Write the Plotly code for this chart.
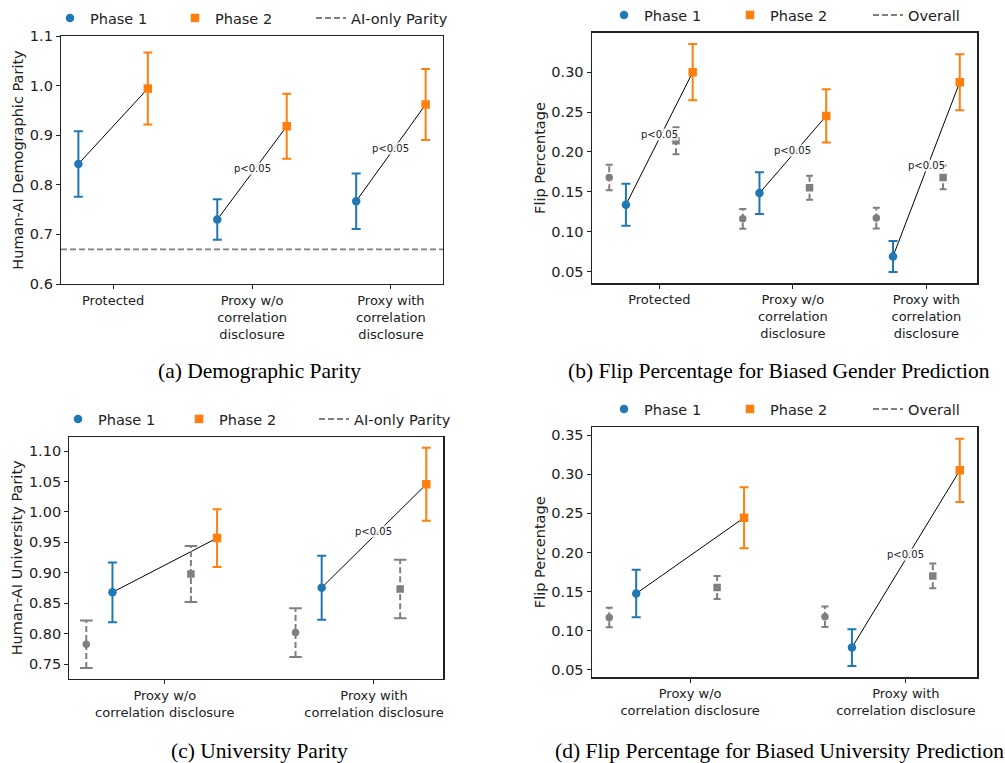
import plotly.graph_objects as go

# ---------------- data ----------------
cats_a = ["Protected", "Proxy w/o<br>correlation<br>disclosure", "Proxy with<br>correlation<br>disclosure"]
a_p1 = [0.842, 0.730, 0.767]
a_p1_err = [0.066, 0.041, 0.056]
a_p2 = [0.994, 0.918, 0.962]
a_p2_err = [0.0725, 0.0655, 0.0715]
a_ai_parity = 0.67
a_sig = [False, True, True]

cats_b = ["Protected", "Proxy w/o<br>correlation<br>disclosure", "Proxy with<br>correlation<br>disclosure"]
b_p1 = [0.1336, 0.1483, 0.0688]
b_p1_err = [0.0264, 0.0263, 0.0194]
b_p2 = [0.300, 0.2452, 0.2875]
b_p2_err = [0.0353, 0.0335, 0.0351]
b_ov1 = [0.168, 0.116, 0.117]
b_ov1_err = [0.016, 0.0125, 0.013]
b_ov2 = [0.214, 0.155, 0.168]
b_ov2_err = [0.017, 0.015, 0.015]
b_sig = [True, True, True]

cats_c = ["Proxy w/o<br>correlation disclosure", "Proxy with<br>correlation disclosure"]
c_p1 = [0.868, 0.8756]
c_p1_err = [0.049, 0.0525]
c_p2 = [0.957, 1.0454]
c_p2_err = [0.0475, 0.060]
c_ai1 = [0.7827, 0.8018]
c_ai1_err = [0.039, 0.040]
c_ai2 = [0.898, 0.8734]
c_ai2_err = [0.046, 0.048]
c_sig = [False, True]

cats_d = ["Proxy w/o<br>correlation disclosure", "Proxy with<br>correlation disclosure"]
d_p1 = [0.1474, 0.0782]
d_p1_err = [0.0303, 0.0235]
d_p2 = [0.2445, 0.3051]
d_p2_err = [0.039, 0.0406]
d_ov1 = [0.1167, 0.1176]
d_ov1_err = [0.0124, 0.0132]
d_ov2 = [0.1551, 0.170]
d_ov2_err = [0.0147, 0.0158]
d_sig = [False, True]

captions = ["(a) Demographic Parity",
            "(b) Flip Percentage for Biased Gender Prediction",
            "(c) University Parity",
            "(d) Flip Percentage for Biased University Prediction"]

# ---------------- style ----------------
BLUE = "#1f77b4"
ORANGE = "#ff7f0e"
GRAY = "#7f7f7f"
INK = "#222222"
FONT = "DejaVu Sans"
W, H = 1005, 763

OFF_P1, OFF_P2 = -0.25, 0.25
OFF_G1, OFF_G2 = -0.375, 0.125

fig = go.Figure()
annotations = []
shapes = []


def px_dom(x0, x1, ytop, ybot):
    return [x0 / W, x1 / W], [1 - ybot / H, 1 - ytop / H]


def add_phase(ax, legend, x, y, err, color, symbol, name):
    fig.add_trace(go.Scatter(
        x=x, y=y, mode="markers", name=name, legend=legend,
        xaxis="x" + ax, yaxis="y" + ax,
        marker=dict(color=color, size=8.5, symbol=symbol),
        error_y=dict(type="data", array=err, visible=True, color=color,
                     thickness=2, width=4.5),
    ))


def add_gray(ax, legend, x, y, err, symbol, name, showlegend, capw):
    ex, ey, cx, cy = [], [], [], []
    for xi, yi, ei in zip(x, y, err):
        ex += [xi, xi, None]
        ey += [yi - ei, yi + ei, None]
        cx += [xi, xi]
        cy += [yi - ei, yi + ei]
    fig.add_trace(go.Scatter(
        x=ex, y=ey, mode="lines", name=name, legend=legend,
        showlegend=showlegend, xaxis="x" + ax, yaxis="y" + ax,
        line=dict(color=GRAY, width=2, dash="6px,3px"),
    ))
    fig.add_trace(go.Scatter(
        x=cx, y=cy, mode="markers", showlegend=False,
        xaxis="x" + ax, yaxis="y" + ax, hoverinfo="skip",
        marker=dict(symbol="line-ew", size=capw,
                    line=dict(color=GRAY, width=2)),
    ))
    fig.add_trace(go.Scatter(
        x=x, y=y, mode="markers", showlegend=False,
        xaxis="x" + ax, yaxis="y" + ax,
        marker=dict(color=GRAY, size=7.5, symbol=symbol),
    ))


def add_panel(ax, legend, cats, p1, p1e, p2, p2e, sig):
    n = len(cats)
    x1 = [i + OFF_P1 for i in range(n)]
    x2 = [i + OFF_P2 for i in range(n)]
    lx, ly = [], []
    for i in range(n):
        lx += [x1[i], x2[i], None]
        ly += [p1[i], p2[i], None]
    fig.add_trace(go.Scatter(
        x=lx, y=ly, mode="lines", showlegend=False,
        xaxis="x" + ax, yaxis="y" + ax,
        line=dict(color="black", width=1),
    ))
    add_phase(ax, legend, x1, p1, p1e, BLUE, "circle", "Phase 1")
    add_phase(ax, legend, x2, p2, p2e, ORANGE, "square", "Phase 2")
    for i in range(n):
        if sig[i]:
            annotations.append(dict(
                x=(x1[i] + x2[i]) / 2, y=(p1[i] + p2[i]) / 2,
                xref="x" + ax, yref="y" + ax, text="p<0.05",
                showarrow=False, yshift=4,
                font=dict(family=FONT, size=10, color=INK),
                bgcolor="rgba(255,255,255,0.8)", borderpad=0,
            ))
    return x1, x2


def data_range(vals_lo, vals_hi):
    lo, hi = min(vals_lo), max(vals_hi)
    m = (hi - lo) * 0.05
    return [lo - m, hi + m]


def x_range(n, left):
    lo, hi = left, (n - 1) + OFF_P2
    m = (hi - lo) * 0.05
    return [lo - m, hi + m]


# panel a
add_panel("", "legend", cats_a, a_p1, a_p1_err, a_p2, a_p2_err, a_sig)
fig.add_trace(go.Scatter(x=[None], y=[None], mode="lines", name="AI-only Parity",
                         legend="legend5", line=dict(color=GRAY, width=2, dash="6px,3px")))
shapes.append(dict(type="line", xref="x domain", yref="y", x0=0, x1=1,
                   y0=a_ai_parity, y1=a_ai_parity,
                   line=dict(color=GRAY, width=1.8, dash="6px,3px")))

# panel b
add_panel("2", "legend2", cats_b, b_p1, b_p1_err, b_p2, b_p2_err, b_sig)
nb = len(cats_b)
add_gray("2", "legend6", [i + OFF_G1 for i in range(nb)], b_ov1, b_ov1_err, "circle", "Overall", True, 5)
add_gray("2", "legend6", [i + OFF_G2 for i in range(nb)], b_ov2, b_ov2_err, "square", "Overall", False, 5)

# panel c
add_panel("3", "legend3", cats_c, c_p1, c_p1_err, c_p2, c_p2_err, c_sig)
nc = len(cats_c)
add_gray("3", "legend7", [i + OFF_G1 for i in range(nc)], c_ai1, c_ai1_err, "circle", "AI-only Parity", True, 9)
add_gray("3", "legend7", [i + OFF_G2 for i in range(nc)], c_ai2, c_ai2_err, "square", "AI-only Parity", False, 9)

# panel d
add_panel("4", "legend4", cats_d, d_p1, d_p1_err, d_p2, d_p2_err, d_sig)
nd = len(cats_d)
add_gray("4", "legend8", [i + OFF_G1 for i in range(nd)], d_ov1, d_ov1_err, "circle", "Overall", True, 5)
add_gray("4", "legend8", [i + OFF_G2 for i in range(nd)], d_ov2, d_ov2_err, "square", "Overall", False, 5)

# ranges
def lo_hi(*pairs):
    lo, hi = [], []
    for v, e in pairs:
        lo += [a - b for a, b in zip(v, e)]
        hi += [a + b for a, b in zip(v, e)]
    return lo, hi

rb = data_range(*lo_hi((b_p1, b_p1_err), (b_p2, b_p2_err), (b_ov1, b_ov1_err), (b_ov2, b_ov2_err)))
rc = data_range(*lo_hi((c_p1, c_p1_err), (c_p2, c_p2_err), (c_ai1, c_ai1_err), (c_ai2, c_ai2_err)))
rd = data_range(*lo_hi((d_p1, d_p1_err), (d_p2, d_p2_err), (d_ov1, d_ov1_err), (d_ov2, d_ov2_err)))

axcommon = dict(showline=True, mirror=True, linecolor=INK, linewidth=1.2,
                ticks="outside", ticklen=4, tickcolor=INK, tickwidth=1,
                showgrid=False, zeroline=False, automargin=False)

def xax(dom, n, left, cats, anchor):
    return dict(axcommon, domain=dom, range=x_range(n, left), anchor=anchor,
                tickmode="array", tickvals=list(range(n)), ticktext=cats,
                tickfont=dict(family=FONT, size=13, color=INK))

def yax(dom, rng, title, dtick, fmt, anchor):
    return dict(axcommon, domain=dom, range=rng, anchor=anchor,
                dtick=dtick, tick0=0, tickformat=fmt,
                tickfont=dict(family=FONT, size=14.5, color=INK),
                title=dict(text=title, standoff=2,
                           font=dict(family=FONT, size=14.5, color=INK)))

xa, ya = px_dom(61, 443, 36, 284)
xb, yb = px_dom(591.7, 977.3, 32.7, 283.3)
xc, yc = px_dom(69.3, 443.3, 436.7, 679)
xd, yd = px_dom(591.7, 977.3, 427.3, 677.3)

legfont = dict(family=FONT, size=14.5, color=INK)
def leg(xpx, ypx, ew=None):
    d = dict(orientation="h", x=xpx / W, y=1 - ypx / H, xanchor="left", yanchor="middle",
             font=legfont, bgcolor="rgba(0,0,0,0)",
             itemclick=False, itemdoubleclick=False)
    if ew:
        d.update(entrywidth=ew, entrywidthmode="pixels")
    return d

cap_font = dict(family="Liberation Serif", size=21.5, color="black")
annotations += [
    dict(text=captions[0], x=259 / W, y=1 - 371 / H, xref="paper", yref="paper",
         showarrow=False, font=cap_font, xanchor="center", yanchor="middle"),
    dict(text=captions[1], x=779 / W, y=1 - 371 / H, xref="paper", yref="paper",
         showarrow=False, font=cap_font, xanchor="center", yanchor="middle"),
    dict(text=captions[2], x=259 / W, y=1 - 751 / H, xref="paper", yref="paper",
         showarrow=False, font=cap_font, xanchor="center", yanchor="middle"),
    dict(text=captions[3], x=779 / W, y=1 - 751 / H, xref="paper", yref="paper",
         showarrow=False, font=cap_font, xanchor="center", yanchor="middle"),
]

fig.update_layout(
    template="none",
    width=W, height=H, margin=dict(l=0, r=0, t=0, b=0, autoexpand=False),
    paper_bgcolor="white", plot_bgcolor="white",
    font=dict(family=FONT, color=INK),
    xaxis=xax(xa, 3, OFF_P1, cats_a, "y"),
    yaxis=yax(ya, [0.6, 1.1], "Human-AI Demographic Parity", 0.1, ".1f", "x"),
    xaxis2=xax(xb, 3, OFF_G1, cats_b, "y2"),
    yaxis2=yax(yb, rb, "Flip Percentage", 0.05, ".2f", "x2"),
    xaxis3=xax(xc, 2, OFF_G1, cats_c, "y3"),
    yaxis3=yax(yc, rc, "Human-AI University Parity", 0.05, ".2f", "x3"),
    xaxis4=xax(xd, 2, OFF_G1, cats_d, "y4"),
    yaxis4=yax(yd, rd, "Flip Percentage", 0.05, ".2f", "x4"),
    legend=leg(50, 18, 80),
    legend2=leg(604, 15, 81),
    legend3=leg(58, 419, 76),
    legend4=leg(604, 409, 81),
    legend5=leg(311, 18),
    legend6=leg(868, 15),
    legend7=leg(314, 419),
    legend8=leg(868, 409),
    annotations=annotations,
    shapes=shapes,
    showlegend=True,
)

fig.write_html("out.html",
               config={"displayModeBar": False, "staticPlot": True},
               post_script="document.body.style.margin='0px';document.body.style.overflow='hidden';")
